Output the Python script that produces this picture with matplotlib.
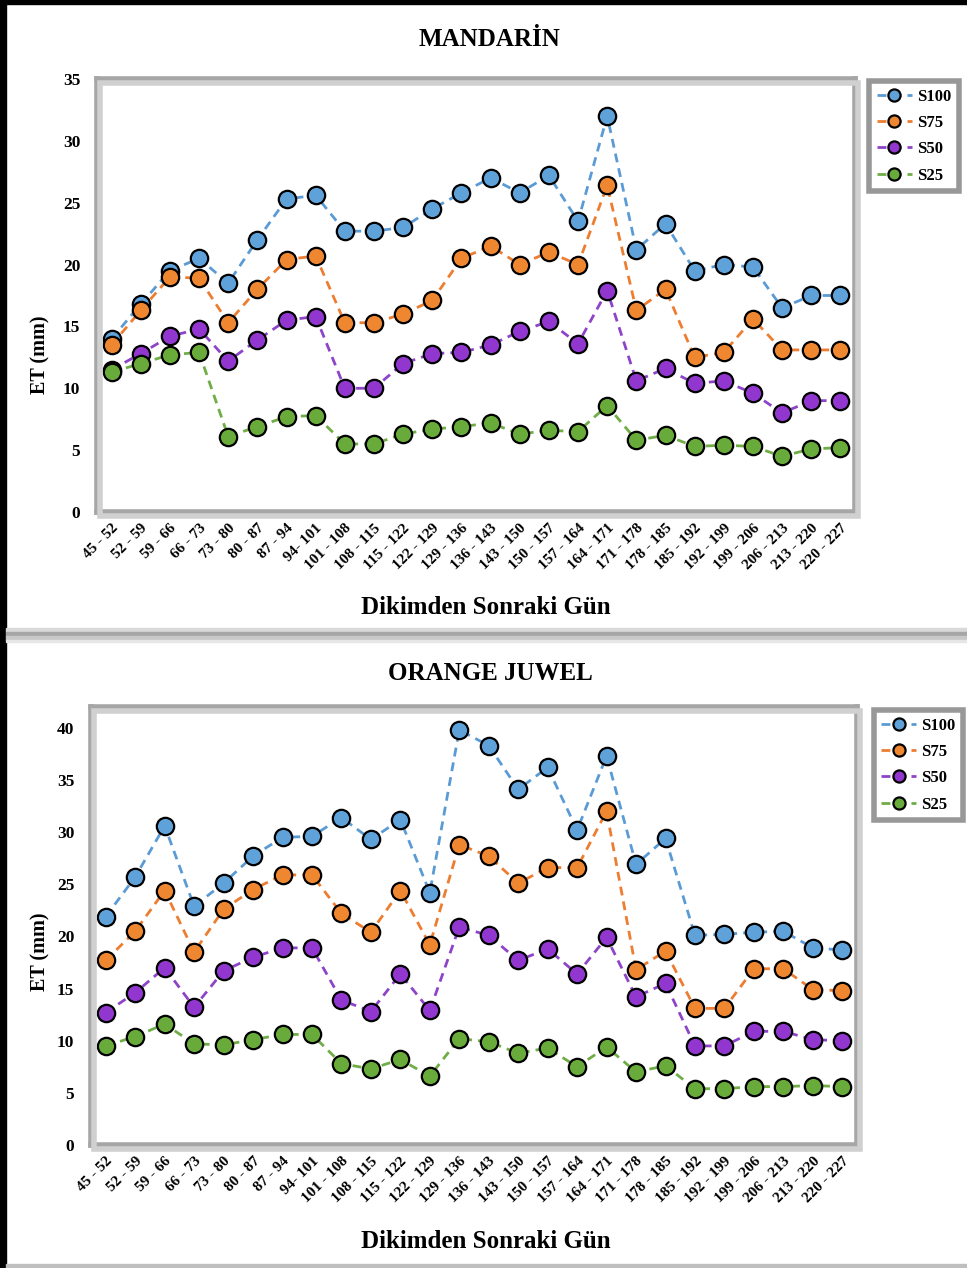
import matplotlib
matplotlib.use("Agg")
import matplotlib.pyplot as plt
from matplotlib.patches import Rectangle

plt.rcParams['font.family'] = ['Liberation Serif', 'DejaVu Serif']
plt.rcParams['font.weight'] = 'bold'

categories = ["45 - 52", "52 - 59", "59 - 66", "66 - 73", "73 - 80", "80 - 87", "87 - 94",
              "94- 101", "101 - 108", "108 - 115", "115 - 122", "122 - 129", "129 - 136",
              "136 - 143", "143 - 150", "150 - 157", "157 - 164", "164 - 171", "171 - 178",
              "178 - 185", "185 - 192", "192 - 199", "199 - 206", "206 - 213", "213 - 220",
              "220 - 227"]
series_names = ["S100", "S75", "S50", "S25"]

mandarin_s100 = [14.0, 16.8, 19.5, 20.5, 18.5, 22.0, 25.3, 25.6, 22.7, 22.7, 23.0, 24.5, 25.8,
                 27.0, 25.8, 27.2, 23.5, 32.0, 21.2, 23.3, 19.5, 20.0, 19.8, 16.5, 17.5, 17.5]
mandarin_s75 = [13.5, 16.3, 19.0, 18.9, 15.3, 18.0, 20.4, 20.7, 15.3, 15.3, 16.0, 17.1, 20.5,
                21.5, 20.0, 21.0, 20.0, 26.4, 16.3, 18.0, 12.5, 12.9, 15.6, 13.1, 13.1, 13.1]
mandarin_s50 = [11.5, 12.8, 14.2, 14.8, 12.2, 13.9, 15.5, 15.8, 10.0, 10.0, 12.0, 12.8, 12.9,
                13.5, 14.6, 15.4, 13.6, 17.9, 10.6, 11.6, 10.4, 10.6, 9.6, 8.0, 9.0, 9.0]
mandarin_s25 = [11.3, 12.0, 12.7, 12.9, 6.1, 6.9, 7.7, 7.8, 5.5, 5.5, 6.3, 6.7, 6.9,
                7.2, 6.3, 6.6, 6.5, 8.6, 5.8, 6.2, 5.3, 5.4, 5.3, 4.5, 5.1, 5.2]

juwel_s100 = [21.9, 25.7, 30.6, 22.9, 25.1, 27.7, 29.5, 29.6, 31.4, 29.3, 31.2, 24.2, 39.8,
              38.3, 34.1, 36.2, 30.2, 37.3, 26.9, 29.4, 20.1, 20.2, 20.4, 20.5, 18.9, 18.7]
juwel_s75 = [17.7, 20.5, 24.4, 18.5, 22.6, 24.5, 25.9, 25.9, 22.2, 20.4, 24.4, 19.2, 28.8,
             27.7, 25.1, 26.6, 26.6, 32.0, 16.8, 18.6, 13.1, 13.1, 16.9, 16.9, 14.9, 14.8]
juwel_s50 = [12.7, 14.6, 17.0, 13.2, 16.7, 18.0, 18.9, 18.9, 13.9, 12.8, 16.4, 12.9, 20.9,
             20.1, 17.7, 18.8, 16.4, 19.9, 14.2, 15.5, 9.5, 9.5, 10.9, 10.9, 10.1, 10.0]
juwel_s25 = [9.5, 10.4, 11.6, 9.7, 9.6, 10.1, 10.6, 10.6, 7.8, 7.3, 8.2, 6.6, 10.2,
             9.9, 8.8, 9.3, 7.5, 9.4, 7.0, 7.6, 5.4, 5.4, 5.6, 5.6, 5.7, 5.6]

line_colors = ['#5b9bd5', '#ed7d31', '#8e44c8', '#70ad47']
fill_colors = ['#5fa2da', '#ef8630', '#9137cf', '#69ab3a']

W, H = 967, 1268
fig = plt.figure(figsize=(W / 100, H / 100), dpi=100)
fig.patch.set_facecolor('white')

# panel decorations
fig.patches.append(Rectangle((0, 0), 6 / W, 1, transform=fig.transFigure, color='black', zorder=0))
fig.patches.append(Rectangle((0, 1 - 4 / H), 1, 4 / H, transform=fig.transFigure, color='black', zorder=0))
for y0, h, c in [(628, 4, '#d9d9d9'), (632, 4, '#a6a6a6'), (636, 4, '#c8c8c8'), (640, 2, '#e6e6e6')]:
    fig.patches.append(Rectangle((6 / W, 1 - (y0 + h) / H), 1, h / H, transform=fig.transFigure,
                                 color=c, zorder=0))
fig.patches.append(Rectangle((6 / W, 0), 1, 4 / H, transform=fig.transFigure, color='#bfbfbf', zorder=0))


def make_panel(rect_px, ylim, yticks, data, title, title_y, xlabel_y, ylabel_y, leg_anchor):
    left, top, right, bottom = rect_px
    ax = fig.add_axes([left / W, 1 - bottom / H, (right - left) / W, (bottom - top) / H])
    # shadow
    fig.patches.append(Rectangle(((left + 3) / W, 1 - (bottom + 4) / H), (right - left) / W,
                                 (bottom - top) / H, transform=fig.transFigure, fill=False,
                                 edgecolor='#d0d0d0', lw=4, zorder=0))
    x = list(range(len(categories)))
    for vals, name, lc, fc in zip(data, series_names, line_colors, fill_colors):
        ax.plot(x, vals, linestyle=(0, (3.2, 2.2)), color=lc, lw=2.0, marker='o', markersize=12.5,
                markerfacecolor=fc, markeredgecolor='black', markeredgewidth=1.6, label=name,
                clip_on=False, zorder=3)
    ax.set_xlim(-0.5, len(categories) - 0.5)
    ax.set_ylim(*ylim)
    ax.set_yticks(yticks)
    ax.set_yticklabels([str(v) for v in yticks], fontsize=12.5, fontweight='bold')
    ax.set_xticks(x)
    ax.set_xticklabels(categories, rotation=45, ha='right', rotation_mode='anchor',
                       fontsize=11, fontweight='bold')
    ax.tick_params(axis='x', length=0, pad=7)
    ax.tick_params(axis='y', length=0, pad=12)
    for s in ax.spines.values():
        s.set_color('#a6a6a6')
        s.set_linewidth(4)
    fig.text(40 / W, 1 - ylabel_y / H, 'ET (mm)', rotation=90, ha='center', va='center',
             fontsize=14.5, fontweight='bold')
    fig.text(490 / W, 1 - title_y / H, title, ha='center', va='center',
             fontsize=18, fontweight='bold')
    fig.text(486 / W, 1 - xlabel_y / H, 'Dikimden Sonraki Gün', ha='center', va='center',
             fontsize=18, fontweight='bold')
    leg = ax.legend(loc='upper left', bbox_to_anchor=leg_anchor, borderaxespad=0,
                    frameon=True, fancybox=False, markerscale=0.7,
                    handlelength=2.1, handletextpad=0.3, labelspacing=0.62,
                    borderpad=0.45, prop={'weight': 'bold', 'size': 12})
    fr = leg.get_frame()
    fr.set_edgecolor('#7f7f7f')
    fr.set_linewidth(4)
    return ax


make_panel((97, 79, 855, 512), (0, 35), [0, 5, 10, 15, 20, 25, 30, 35],
           [mandarin_s100, mandarin_s75, mandarin_s50, mandarin_s25],
           'MANDARİN', 40, 607, 355, (1.019, 0.995))
make_panel((91, 707, 857, 1145), (0, 42), [0, 5, 10, 15, 20, 25, 30, 35, 40],
           [juwel_s100, juwel_s75, juwel_s50, juwel_s25],
           'ORANGE JUWEL', 674, 1241, 952, (1.022, 0.993))

fig.savefig('out.png', dpi=100)
